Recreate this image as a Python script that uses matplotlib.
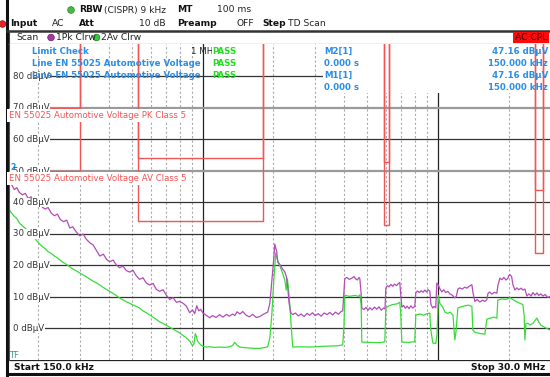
import matplotlib
matplotlib.use('Agg')
import matplotlib.pyplot as plt
from matplotlib.patches import Rectangle, Circle

W, H = 550, 377

# Peak trace (1Pk Clrw), frequency in MHz, level in dBuV
pk_freq = [0.150, 0.154, 0.158, 0.162, 0.166, 0.171, 0.176, 0.181, 0.186, 0.192, 0.198, 0.2025,
           0.208, 0.214, 0.220, 0.227, 0.234, 0.241, 0.248, 0.256, 0.264, 0.272, 0.280, 0.290,
           0.300, 0.310, 0.320, 0.331, 0.342, 0.353, 0.365, 0.378, 0.390, 0.402, 0.416, 0.430,
           0.443, 0.458, 0.473, 0.489, 0.505, 0.522, 0.539, 0.557, 0.576, 0.595, 0.615, 0.635,
           0.656, 0.678, 0.700, 0.724, 0.748, 0.773, 0.798, 0.825, 0.852, 0.880, 0.905, 0.925,
           0.943, 0.962, 0.981, 1.000, 1.035, 1.071, 1.10, 1.14, 1.18, 1.22, 1.26, 1.30, 1.34,
           1.37, 1.40, 1.44, 1.48, 1.53, 1.58, 1.63, 1.69, 1.75, 1.82, 1.89, 1.93, 1.97, 2.005,
           2.025, 2.045, 2.065, 2.085, 2.126, 2.19, 2.234, 2.27, 2.30, 2.33, 2.37, 2.415,
           2.48, 2.55, 2.62, 2.70, 2.78, 2.85, 2.93, 3.01, 3.10, 3.19, 3.28, 3.38, 3.47, 3.57,
           3.67, 3.78, 3.88, 3.94, 4.00, 4.02, 4.10, 4.20, 4.30, 4.40, 4.48, 4.55, 4.62, 4.66,
           4.72, 4.75, 4.85, 4.95, 5.05, 5.14, 5.25, 5.38, 5.50, 5.62, 5.75, 5.88, 5.96, 6.01,
           6.10, 6.20, 6.32, 6.43, 6.55, 6.68, 6.80, 6.89, 6.95, 7.03, 7.15, 7.28, 7.40, 7.55,
           7.68, 7.82, 7.98, 8.06, 8.20, 8.35, 8.50, 8.65, 8.80, 8.95, 9.10, 9.25, 9.35, 9.52,
           9.65, 9.80, 9.90, 10.05, 10.20, 10.40, 10.60, 10.80, 11.03, 11.25, 11.5, 11.81, 12.0,
           12.17, 12.4, 12.7, 13.0, 13.3, 13.6, 13.96, 14.1, 14.37, 14.7, 15.1, 15.5, 15.85,
           16.17, 16.32, 16.6, 16.98, 17.4, 17.83, 18.0, 18.36, 18.72, 19.1, 19.5, 19.85, 20.05,
           20.25, 20.6, 20.85, 21.27, 21.7, 22.1, 22.6, 23.0, 23.46, 23.92, 24.4, 24.9, 25.37,
           25.9, 26.4, 26.9, 27.4, 28.0, 28.6, 29.3, 30.0]
pk_level = [46.5, 45.6, 44.1, 44.7, 43.2, 42.4, 42.9, 41.3, 41.8, 40.4, 39.6, 40.1,
            38.5, 37.9, 38.4, 36.6, 35.8, 36.3, 34.6, 33.9, 34.4, 31.9, 32.3, 30.6,
            29.4, 30.0, 28.3, 27.2, 26.5, 24.8, 23.0, 23.6, 21.9, 21.2, 21.7, 20.1,
            19.3, 19.8, 18.4, 17.9, 18.5, 16.7, 15.6, 16.1, 14.4, 13.8, 14.3, 12.4,
            11.8, 12.3, 10.6, 9.2, 9.8, 8.3, 8.6, 8.0, 7.1, 5.0, 5.9, 4.7,
            7.2, 5.6, 6.1, 5.0, 4.2, 3.4, 4.1, 3.5, 4.4, 3.6, 4.5, 3.9, 4.6,
            4.1, 5.3, 4.6, 5.4, 4.2, 3.7, 4.5, 3.5, 3.8, 4.6, 5.2, 8.0, 15.4, 22.0,
            26.8, 25.5, 24.4, 21.0, 20.4, 18.8, 18.0, 16.4, 13.0, 8.0, 5.0, 4.4,
            4.9, 4.0, 4.6, 3.8, 4.8, 4.2, 5.0, 4.1, 4.7, 3.9, 4.9, 4.4, 5.1, 4.3,
            5.2, 4.5, 5.4, 5.6, 13.0, 15.8, 16.2, 15.6, 15.9, 16.5, 15.7, 15.4, 16.2, 15.8,
            11.0, 6.5, 6.0, 6.7, 5.8, 6.6, 5.9, 6.8, 6.1, 6.9, 5.8, 6.5, 6.2, 12.8,
            13.6, 13.2, 14.0, 13.4, 14.1, 13.6, 14.3, 14.6, 11.0, 6.8, 7.3, 6.4, 7.1, 6.3,
            7.2, 6.5, 7.0, 11.3, 11.9, 11.4, 12.0, 11.5, 12.2, 11.6, 12.3, 11.8, 7.6, 6.5,
            7.0, 6.6, 14.4, 13.8, 12.6, 11.6, 12.3, 11.4, 11.8, 11.0, 10.6, 9.7, 10.3,
            12.5, 12.9, 12.5, 13.1, 12.8, 13.4, 13.9, 11.5, 8.6, 9.2, 8.4, 9.0, 8.6,
            9.2, 11.0, 11.6, 10.9, 11.5, 11.2, 13.5, 16.0, 15.5, 16.2, 15.4, 15.9, 16.8,
            17.1, 16.5, 14.0, 12.2, 12.9, 12.3, 12.8, 12.2, 12.5, 10.3, 11.0, 10.3, 11.4,
            10.6, 11.3, 10.5, 11.0, 10.3, 10.8, 9.9, 10.1]

# Average trace (2Av Clrw)
av_freq = [0.150, 0.154, 0.158, 0.162, 0.166, 0.171, 0.176, 0.181, 0.186, 0.192, 0.198, 0.2025,
           0.208, 0.214, 0.220, 0.227, 0.234, 0.241, 0.248, 0.256, 0.264, 0.272, 0.280, 0.290,
           0.300, 0.310, 0.320, 0.331, 0.342, 0.353, 0.365, 0.378, 0.390, 0.402, 0.416, 0.430,
           0.443, 0.458, 0.473, 0.489, 0.505, 0.522, 0.539, 0.557, 0.576, 0.595, 0.615, 0.635,
           0.656, 0.678, 0.700, 0.724, 0.748, 0.773, 0.798, 0.825, 0.852, 0.880, 0.905, 0.918,
           0.930, 0.940, 0.950, 0.962, 0.981, 1.000, 1.035, 1.071, 1.12, 1.18, 1.24, 1.30, 1.34,
           1.368, 1.40, 1.44, 1.51, 1.58, 1.66, 1.75, 1.82, 1.89, 1.93, 1.97, 2.005, 2.045,
           2.065, 2.085, 2.126, 2.19, 2.234, 2.265, 2.29, 2.31, 2.35, 2.38, 2.415, 2.6, 2.85,
           3.15, 3.47, 3.75, 3.94, 3.99, 4.02, 4.2, 4.44, 4.6, 4.66, 4.72, 4.75, 5.1, 5.66,
           5.95, 6.01, 6.2, 6.43, 6.7, 6.89, 6.95, 7.03, 7.45, 7.98, 8.06, 8.4, 8.7, 9.0, 9.25,
           9.32, 9.52, 9.8, 9.92, 10.05, 10.2, 10.5, 10.71, 11.03, 11.3, 11.6, 11.81, 11.95,
           12.17, 12.6, 13.03, 13.5, 13.96, 14.09, 14.37, 15.09, 15.85, 16.17, 16.6, 17.3,
           17.83, 18.0, 18.7, 19.5, 20.25, 20.85, 21.5, 22.34, 23.0, 23.3, 23.46, 23.7, 24.15,
           24.63, 25.37, 26.38, 26.9, 27.5, 28.5, 30.0]
av_level = [37.8, 36.6, 35.6, 34.9, 33.5, 32.6, 31.8, 30.7, 30.0, 28.9, 27.6, 26.8,
            26.0, 25.3, 24.4, 23.8, 23.0, 22.4, 21.6, 20.9, 20.3, 19.6, 18.9, 18.3,
            17.6, 17.0, 16.4, 15.7, 15.0, 14.5, 13.8, 13.0, 12.4, 11.8, 11.1, 10.4,
            9.7, 9.1, 8.5, 8.0, 7.5, 7.0, 6.5, 5.6, 5.0, 4.3, 3.6, 2.9,
            2.1, 1.6, 1.0, 0.4, -0.2, -0.8, -1.4, -2.2, -3.0, -4.0, -5.5, -4.8,
            -1.6, -2.5, -3.9, -4.5, -5.2, -5.6, -5.9, -5.8, -6.0, -5.9, -6.0, -5.8, -5.4,
            -4.4, -5.3, -5.9, -6.1, -6.2, -6.3, -6.3, -6.1, -5.8, -3.0, 5.0, 15.0, 24.0,
            22.6, 21.6, 20.0, 17.4, 15.4, 12.2, 15.8, 13.6, 7.0, 0.5, -5.9, -5.8, -5.9,
            -5.7, -5.6, -5.5, -5.2, 1.0, 10.6, 10.2, 10.5, 10.2, 10.7, 7.5, -4.3, -4.4, -4.5,
            -4.2, 6.5, 7.2, 7.6, 7.8, 8.3, 5.0, -4.3, -4.4, -4.2, 4.3, 4.6, 4.2, 4.7, 4.9,
            0.0, -4.6, -4.8, -2.0, 10.5, 8.0, 6.8, 5.2, 4.8, 5.2, 4.2, -3.6, -1.0,
            6.5, 6.9, 7.2, 7.4, 7.0, -0.5, -1.2, -1.6, -1.8, 3.0, 3.2, 3.6,
            3.3, 9.0, 9.4, 9.2, 9.8, 9.2, 8.6, 8.0, 7.6, 4.0, -3.6, 1.5, 1.7,
            1.1, 1.6, 3.3, 2.0, 1.0, 0.4, -0.5]

# CISPR 25 / EN 55025 class 5 voltage limits
band_lo = [0.15, 0.53, 5.9, 26.0]
band_hi = [0.30, 1.8, 6.2, 28.0]
pk_limit = [70, 54, 53, 44]
av_limit = [50, 34, 33, 24]

level_labels = [80, 70, 60, 50, 40, 30, 20, 10, 0]
solid_levels = [80, 60, 40, 30, 20, 10, 0]
thick_levels = [70, 50]
dashed_freqs = [0.2, 0.3, 0.4, 0.5, 0.6, 0.7, 0.8, 0.9, 2, 3, 4, 5, 6, 7, 8, 9, 20]
solid_freqs = [1, 10]

YMIN, YMAX = -10.0, 90.3
FS = 6.6
FS_SMALL = 6.2
BLUE = '#2a8ee6'
RED = '#f25555'
PK_COL = '#b24cb8'
AV_COL = '#38dc38'

fig = plt.figure(figsize=(W / 100, H / 100), dpi=100)
fig.patch.set_facecolor('white')

# background layer in pixel coordinates
bg = fig.add_axes([0, 0, 1, 1], zorder=0)
bg.set_xlim(0, W)
bg.set_ylim(H, 0)
bg.axis('off')

# plot area
x0, x1, ytop, ybot = 9, 550, 44, 360
ax = fig.add_axes([x0 / W, 1 - ybot / H, (x1 - x0) / W, (ybot - ytop) / H], zorder=1)
ax.set_xscale('log')
ax.set_xlim(0.15, 30)
ax.set_ylim(YMIN, YMAX)
ax.set_xticks([])
ax.set_yticks([])
ax.minorticks_off()
for s in ax.spines.values():
    s.set_visible(False)
ax.spines['left'].set_visible(True)
ax.spines['left'].set_color('#555555')
ax.spines['left'].set_linewidth(0.8)

for f in dashed_freqs:
    ax.axvline(f, color='#aaaaaa', lw=0.8, ls=(0, (2, 2)), zorder=1)
for f in solid_freqs:
    ax.axvline(f, color='#222222', lw=0.9, zorder=1.1)
for lv in solid_levels:
    ax.axhline(lv, color='#333333', lw=0.9, zorder=1.1)
for lv in thick_levels:
    ax.axhline(lv, color='#9a9a9a', lw=1.6, zorder=1.1)

# white box behind marker table
ax.add_patch(Rectangle((0.58, 0.845), 0.42, 0.155, transform=ax.transAxes,
                       facecolor='white', edgecolor='none', zorder=1.5))

# limit lines
for i in range(len(band_lo)):
    for lim in (pk_limit[i], av_limit[i]):
        if i == 0:
            xs = [band_lo[i], band_hi[i], band_hi[i]]
            ys = [lim, lim, YMAX]
        else:
            xs = [band_lo[i], band_lo[i], band_hi[i], band_hi[i]]
            ys = [YMAX, lim, lim, YMAX]
        ax.plot(xs, ys, color=RED, lw=1.0, zorder=3)

ax.plot(pk_freq, pk_level, color=PK_COL, lw=0.9, zorder=2.6)
ax.plot(av_freq, av_level, color=AV_COL, lw=0.9, zorder=2.5)

# marker M1/M2
ax.plot([0.152], [47.16], marker='v', color='#1e8fe0', ms=3.5, zorder=4, clip_on=False)

# overlay in pixel coordinates for texts
ov = fig.add_axes([0, 0, 1, 1], zorder=2)
ov.set_xlim(0, W)
ov.set_ylim(H, 0)
ov.axis('off')


def txt(x, y, s, **kw):
    kw.setdefault('fontsize', FS)
    kw.setdefault('va', 'center')
    kw.setdefault('ha', 'left')
    kw.setdefault('family', 'DejaVu Sans')
    ov.text(x, y, s, **kw)


def lvl_y(lv):
    return 328.5 - lv * 3.15


# level labels (white background hides the grid line under them)
for lv in level_labels:
    ov.add_patch(Rectangle((9.5, lvl_y(lv) - 4.5), 4, 9, facecolor='white', edgecolor='none'))
    txt(13, lvl_y(lv), f'{lv} dBµV', color='#333333', fontsize=FS_SMALL,
        bbox=dict(facecolor='white', edgecolor='none', pad=0.3))

txt(9, 115.5, 'EN 55025 Automotive Voltage PK Class 5', color=RED, fontsize=FS_SMALL,
    bbox=dict(facecolor='white', edgecolor='none', pad=1.2))
txt(9, 178.5, 'EN 55025 Automotive Voltage AV Class 5', color=RED, fontsize=FS_SMALL,
    bbox=dict(facecolor='white', edgecolor='none', pad=1.2))
txt(10, 167, '2', color='#1e8fe0', fontsize=5.5, fontweight='bold')
txt(9, 355, 'TF', color='#3a9a9a', fontsize=6)

# limit check block
txt(32, 51, 'Limit Check', color=BLUE, fontweight='bold', fontsize=FS_SMALL)
txt(32, 63, 'Line EN 55025 Automotive Voltage', color=BLUE, fontweight='bold', fontsize=FS_SMALL)
txt(32, 75, 'Line EN 55025 Automotive Voltage', color=BLUE, fontweight='bold', fontsize=FS_SMALL)
txt(191, 51, '1 MHz', color='#222222', fontsize=FS_SMALL)
for yy in (51, 63, 75):
    txt(212, yy, 'PASS', color='#22dd22', fontweight='bold', fontsize=FS_SMALL,
        bbox=dict(facecolor='white', edgecolor='none', pad=0.2) if yy == 51 else None)

# marker table
txt(324, 51, 'M2[1]', color=BLUE, fontweight='bold', fontsize=FS_SMALL)
txt(324, 63, '0.000 s', color=BLUE, fontweight='bold', fontsize=FS_SMALL)
txt(324, 75, 'M1[1]', color=BLUE, fontweight='bold', fontsize=FS_SMALL)
txt(324, 88, '0.000 s', color=BLUE, fontweight='bold', fontsize=FS_SMALL)
txt(548, 51, '47.16 dBµV', color=BLUE, fontweight='bold', ha='right', fontsize=FS_SMALL)
txt(548, 63, '150.000 kHz', color=BLUE, fontweight='bold', ha='right', fontsize=FS_SMALL)
txt(548, 75, '47.16 dBµV', color=BLUE, fontweight='bold', ha='right', fontsize=FS_SMALL)
txt(548, 88, '150.000 kHz', color=BLUE, fontweight='bold', ha='right', fontsize=FS_SMALL)

# header
bg.add_patch(Circle((71, 10), 3.3, facecolor='#44bb44', edgecolor='#227722', lw=0.5))
bg.add_patch(Circle((2.5, 24), 3.3, facecolor='#ee2222', edgecolor='#881111', lw=0.5))
txt(79, 10, 'RBW', fontweight='bold', color='#111111')
txt(104, 10, '(CISPR) 9 kHz', color='#222222')
txt(177, 10, 'MT', fontweight='bold', color='#111111')
txt(251, 10, '100 ms', color='#222222', ha='right')
txt(10, 24, 'Input', fontweight='bold', color='#111111')
txt(52, 24, 'AC', color='#222222')
txt(79, 24, 'Att', fontweight='bold', color='#111111')
txt(166, 24, '10 dB', color='#222222', ha='right')
txt(177, 24, 'Preamp', fontweight='bold', color='#111111')
txt(254, 24, 'OFF', color='#222222', ha='right')
txt(262, 24, 'Step', fontweight='bold', color='#111111')
txt(288, 24, 'TD Scan', color='#222222')

# frames
bg.plot([6.5, 6.5], [0, 375], color='#111111', lw=2.2)
bg.plot([6.5, 550], [30.5, 30.5], color='#333333', lw=1.8)
bg.plot([8.5, 8.5], [31, 360], color='#444444', lw=0.8)
bg.plot([9, 550], [43.8, 43.8], color='#b0b0b0', lw=1.0)
bg.plot([9, 550], [360, 360], color='#222222', lw=0.9)
bg.plot([549.5, 549.5], [31, 373], color='#666666', lw=0.8)
bg.plot([6.5, 550], [373.5, 373.5], color='#111111', lw=2.2)

# scan bar
txt(16, 37.5, 'Scan', color='#222222')
bg.add_patch(Circle((51, 37.5), 3.3, facecolor='#aa33aa', edgecolor='#662266', lw=0.5))
txt(56, 37.5, '1Pk Clrw', color='#222222')
bg.add_patch(Circle((96.5, 37.5), 3.3, facecolor='#33cc33', edgecolor='#227722', lw=0.5))
txt(101, 37.5, '2Av Clrw', color='#222222')
ov.add_patch(Rectangle((513, 31.5), 36, 11.5, facecolor='#ff0a0a', edgecolor='none'))
txt(531, 37.5, 'AC CPL', color='#3a0000', ha='center')

# bottom bar
txt(14, 367, 'Start 150.0 kHz', fontweight='bold', color='#111111')
txt(545, 367, 'Stop 30.0 MHz', fontweight='bold', color='#111111', ha='right')

fig.savefig('out.png', dpi=100, facecolor='white')
